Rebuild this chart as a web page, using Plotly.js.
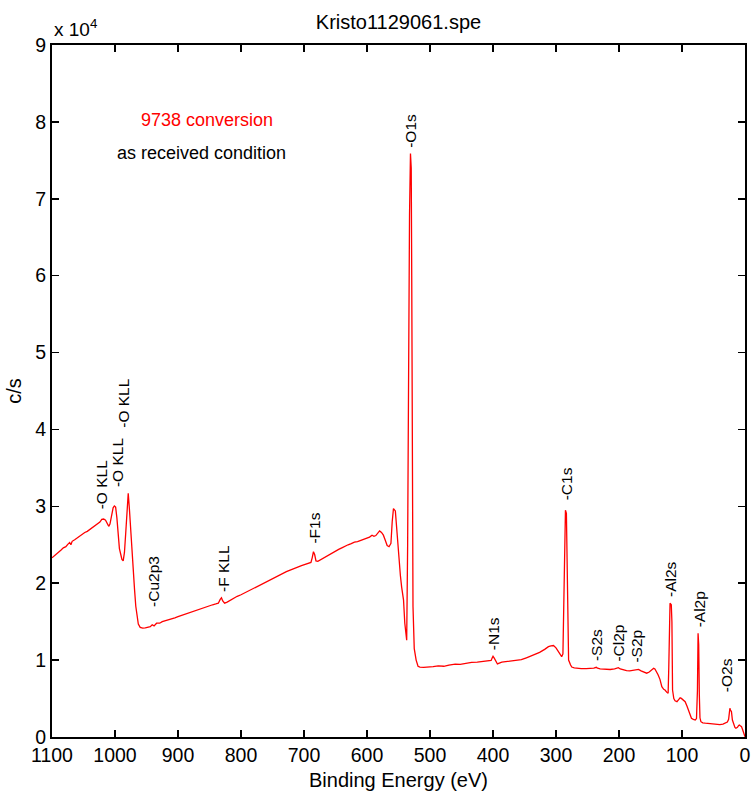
<!DOCTYPE html>
<html>
<head>
<meta charset="utf-8">
<script src="https://cdn.plot.ly/plotly-3.0.1.min.js"></script>
<style>
  html, body { margin: 0; padding: 0; background: #ffffff; }
  #chart { width: 753px; height: 791px; }
</style>
</head>
<body>
<div id="chart"></div>
<script>
// XPS survey spectrum: binding energy (eV) and count rate (c/s)
const bindingEnergy = [
  1100, 1095, 1090, 1086, 1082, 1078, 1075, 1072, 1070, 1068, 1064, 1060, 1056, 1052, 1048, 1044,
  1040, 1036, 1032, 1028, 1024, 1021, 1018, 1015, 1012, 1010, 1008, 1005, 1003, 1001, 999, 997,
  995, 993, 991, 989, 987, 985, 983, 981, 979, 977, 975, 973, 971, 969, 967, 965, 963, 960,
  956, 952, 948, 944, 941, 938, 934, 929, 925, 920, 915, 910, 905, 900, 895, 890, 885, 880,
  875, 870, 865, 860, 855, 850, 845, 840, 836, 833, 831, 829, 826, 822, 818, 812, 806, 800,
  794, 788, 782, 776, 770, 764, 758, 752, 746, 740, 734, 728, 722, 716, 710, 704, 698, 693,
  689, 687, 685, 683, 681, 678, 674, 670, 665, 660, 655, 650, 645, 640, 635, 630, 625, 620,
  615, 610, 605, 600, 596, 592, 589, 586, 583, 580, 577, 574, 571, 568, 565, 562, 560, 558,
  555, 553, 550, 547, 545, 542, 540, 538, 537, 535.5, 534, 532.5, 531, 529.8, 529, 528, 527, 525,
  522, 519, 516, 510, 503, 495, 487, 478, 470, 460, 452, 443, 434, 425, 418, 413, 406, 403,
  401, 400, 398, 396, 393, 389, 386, 380, 372, 364, 355, 347, 340, 333, 326, 318, 312, 308,
  304, 300, 296, 293, 291, 289, 287, 285, 283.5, 282, 280, 277, 275, 271, 267, 260, 252, 245,
  240, 236, 234, 230, 225, 220, 214, 207, 203, 201, 198, 193, 188, 183, 178, 172, 169, 165,
  160, 156, 152, 148, 145, 143, 140, 138, 135, 132, 129, 127, 124, 122, 121, 120, 119, 117,
  116, 115, 113, 111, 108, 105, 103, 101, 98, 95, 92, 90, 87, 85, 82, 79, 77, 75.5, 74.5,
  73.5, 72.5, 71.5, 70, 67, 63, 60, 55, 50, 45, 40, 35, 31, 28, 26, 25, 24, 23, 21.5,
  20, 18, 16, 14.4, 12, 10, 9, 7.5, 5.5, 4, 2, 0
];

const countRate = [
  23300, 23650, 23900, 24300, 24600, 24750, 25050, 25300, 25000, 25450, 25650, 25900, 26150, 26300, 26600, 26750,
  27000, 27300, 27550, 27750, 27950, 28300, 28350, 28200, 27600, 27400, 27700, 28800, 29800, 30050, 29900, 28500,
  26200, 24500, 23800, 23100, 22900, 24000, 26500, 29500, 31700, 29500, 26500, 23500, 21500, 19200, 17000, 15500, 14700, 14250,
  14150, 14200, 14300, 14350, 14600, 14450, 14800, 14800, 15000, 15100, 15250, 15350, 15500, 15650, 15800, 15850, 16050, 16200,
  16350, 16500, 16650, 16850, 16900, 17050, 17200, 17300, 17400, 17900, 18100, 17700, 17400, 17550, 17750, 18000, 18300, 18500,
  18750, 19050, 19300, 19500, 19750, 20050, 20250, 20500, 20750, 21050, 21300, 21500, 21700, 21850, 22100, 22300, 22450, 22600,
  22700, 23300, 24100, 23700, 22900, 22850, 23050, 23250, 23500, 23650, 23900, 24250, 24400, 24600, 24850, 25000, 25150, 25350,
  25400, 25550, 25650, 25850, 26000, 26250, 26100, 26200, 26500, 26800, 26600, 26250, 25600, 24900, 24750, 25200, 28000, 29700,
  29400, 27000, 23500, 21000, 19500, 17800, 14800, 13000, 12600, 25000, 50000, 68000, 75900, 74000, 60000, 35000, 17000, 11500,
  10000, 9200, 9100, 9050, 9080, 9150, 9250, 9200, 9350, 9480, 9450, 9600, 9700, 9750, 9800, 9800, 9850, 9950,
  10350, 10500, 10250, 9900, 9500, 9650, 9750, 9800, 9900, 10000, 10050, 10300, 10500, 10700, 11000, 11400, 11750, 11850,
  11900, 11600, 11100, 10700, 10450, 10800, 20000, 29500, 29100, 18000, 10000, 9400, 9100, 9000, 8930, 8900, 8880, 8900,
  8950, 9060, 8950, 8850, 8820, 8800, 8780, 8850, 8900, 9010, 8850, 8720, 8620, 8600, 8680, 8750, 8800, 8600,
  8450, 8300, 8450, 8700, 8930, 8850, 8490, 8100, 7500, 6540, 6200, 6110, 5800, 5680, 9000, 17170, 17390, 17200,
  15000, 6110, 5000, 4700, 4590, 4900, 5100, 5020, 4750, 4590, 4000, 3510, 2900, 2430, 2300, 2210, 2400, 6000, 13490,
  12000, 5500, 2500, 1990, 1850, 1800, 1780, 1720, 1700, 1650, 1600, 1680, 1780, 1950, 2300, 2900, 3730, 3500, 3290,
  2200, 1560, 1250, 1130, 1250, 1500, 1560, 1450, 1340, 1000, 500, 40
];

// Peak identification labels, anchored just above each feature
const peakLabels = ['-O KLL', '-O KLL', '-O KLL', '-Cu2p3', '-F KLL', '-F1s', '-O1s', '-N1s',
                    '-C1s', '-S2s', '-Cl2p', '-S2p', '-Al2s', '-Al2p', '-O2s'];
const peakLabelEnergy = [1021, 996, 986, 939, 829, 684, 531, 400, 284, 236, 201, 172, 118, 73, 29];
const peakLabelCount = [29520, 32380, 40130, 16780, 18770, 24970, 76560, 11090, 30600, 9790, 9660, 9570, 18030, 14130, 5670];

// Y ticks are shown in units of 10^4 c/s
const yTickValues = [0, 10000, 20000, 30000, 40000, 50000, 60000, 70000, 80000, 90000];
const yTickText = ['0', '1', '2', '3', '4', '5', '6', '7', '8', '9'];
const xTickValues = [1100, 1000, 900, 800, 700, 600, 500, 400, 300, 200, 100, 0];

const FONT = 'Liberation Sans, Arial, Helvetica, sans-serif';

const spectrum = {
  x: bindingEnergy,
  y: countRate,
  type: 'scatter',
  mode: 'lines',
  line: { color: '#ff0000', width: 1.3 },
  hoverinfo: 'x+y'
};

const annotations = peakLabels.map((txt, i) => ({
  text: txt,
  x: peakLabelEnergy[i],
  y: peakLabelCount[i],
  xref: 'x',
  yref: 'y',
  xanchor: 'center',
  yanchor: 'bottom',
  textangle: -90,
  showarrow: false,
  borderpad: 0,
  font: { family: FONT, size: 15.5, color: '#000000' }
}));

annotations.push(
  {
    text: '9738 conversion',
    xref: 'paper', yref: 'paper',
    x: 0.224, y: 0.8916,
    xanchor: 'center', yanchor: 'middle',
    showarrow: false,
    font: { family: FONT, size: 18, color: '#ff0000' }
  },
  {
    text: 'as received condition',
    xref: 'paper', yref: 'paper',
    x: 0.216, y: 0.8439,
    xanchor: 'center', yanchor: 'middle',
    showarrow: false,
    font: { family: FONT, size: 18, color: '#000000' }
  },
  {
    text: 'x 10<sup>4</sup>',
    xref: 'paper', yref: 'paper',
    x: 0, y: 1.0246,
    xanchor: 'left', yanchor: 'middle',
    showarrow: false,
    font: { family: FONT, size: 19, color: '#000000' }
  }
);

const layout = {
  width: 753,
  height: 791,
  margin: { l: 52, r: 8, t: 45, b: 54 },
  paper_bgcolor: '#ffffff',
  plot_bgcolor: '#ffffff',
  showlegend: false,
  title: {
    text: 'Kristo1129061.spe',
    font: { family: FONT, size: 20, color: '#000000' },
    xref: 'paper', x: 0.5, xanchor: 'center',
    yref: 'container', y: 0.972, yanchor: 'middle'
  },
  xaxis: {
    range: [1100, 0],
    tickvals: xTickValues,
    ticks: 'inside',
    ticklen: 7,
    tickwidth: 1.5,
    tickcolor: '#000000',
    showline: true,
    linecolor: '#000000',
    linewidth: 2,
    mirror: 'ticks',
    showgrid: false,
    zeroline: false,
    tickfont: { family: FONT, size: 19.5, color: '#000000' },
    title: { text: 'Binding Energy (eV)', font: { family: FONT, size: 20, color: '#000000' }, standoff: 9 }
  },
  yaxis: {
    range: [0, 90000],
    tickvals: yTickValues,
    ticktext: yTickText,
    ticks: 'inside',
    ticklen: 7,
    tickwidth: 1.5,
    tickcolor: '#000000',
    showline: true,
    linecolor: '#000000',
    linewidth: 2,
    mirror: 'ticks',
    showgrid: false,
    zeroline: false,
    tickfont: { family: FONT, size: 19.5, color: '#000000' },
    title: { text: 'c/s', font: { family: FONT, size: 20, color: '#000000' }, standoff: 8 }
  },
  annotations: annotations
};

Plotly.newPlot('chart', [spectrum], layout, { displayModeBar: false, staticPlot: true });
</script>
</body>
</html>
